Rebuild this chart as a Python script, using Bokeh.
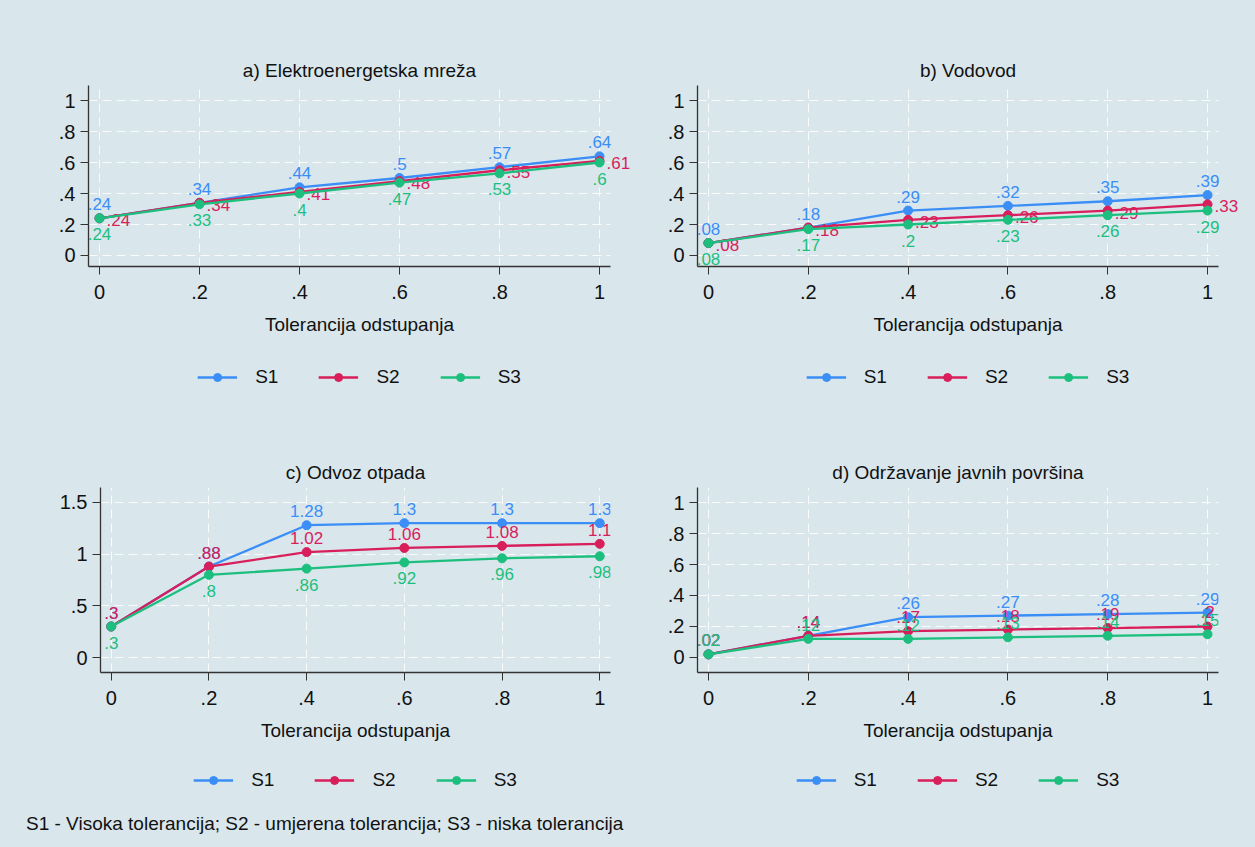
from bokeh.plotting import figure
from bokeh.layouts import column, row
from bokeh.models import (Legend, LegendItem, Div, FixedTicker, Range1d,
                          ColumnDataSource, BoxAnnotation)
from bokeh.embed import file_html
from bokeh.resources import INLINE
from bokeh.core.properties import value

# ---------------- data ----------------
x_vals = [0, 0.2, 0.4, 0.6, 0.8, 1.0]
x_tick_labels = ["0", ".2", ".4", ".6", ".8", "1"]
series_names = ["S1", "S2", "S3"]

a_s1 = [0.24, 0.34, 0.44, 0.50, 0.57, 0.64]
a_s2 = [0.24, 0.34, 0.41, 0.48, 0.55, 0.61]
a_s3 = [0.24, 0.33, 0.40, 0.47, 0.53, 0.60]

b_s1 = [0.08, 0.18, 0.29, 0.32, 0.35, 0.39]
b_s2 = [0.08, 0.18, 0.23, 0.26, 0.29, 0.33]
b_s3 = [0.08, 0.17, 0.20, 0.23, 0.26, 0.29]

c_s1 = [0.30, 0.88, 1.28, 1.30, 1.30, 1.30]
c_s2 = [0.30, 0.88, 1.02, 1.06, 1.08, 1.10]
c_s3 = [0.30, 0.80, 0.86, 0.92, 0.96, 0.98]

d_s1 = [0.02, 0.14, 0.26, 0.27, 0.28, 0.29]
d_s2 = [0.02, 0.14, 0.17, 0.18, 0.19, 0.20]
d_s3 = [0.02, 0.12, 0.12, 0.13, 0.14, 0.15]

panel_titles = ["a) Elektroenergetska mreža", "b) Vodovod",
                "c) Odvoz otpada", "d) Održavanje javnih površina"]
x_axis_title = "Tolerancija odstupanja"
footnote = "S1 - Visoka tolerancija; S2 - umjerena tolerancija; S3 - niska tolerancija"

y_ticks_01 = [0, 0.2, 0.4, 0.6, 0.8, 1.0]
y_tick_labels_01 = ["0", ".2", ".4", ".6", ".8", "1"]
y_ticks_c = [0, 0.5, 1.0, 1.5]
y_tick_labels_c = ["0", ".5", "1", "1.5"]

# ---------------- style ----------------
BG = "#d9e6ec"
COLORS = ["#3a8ef6", "#d81e5b", "#1dbf7e"]
FONT = "Liberation Sans"
X_LO, X_HI = -0.022, 1.022


def fmt(v):
    s = f"{v:.2f}".rstrip("0").rstrip(".")
    if s.startswith("0."):
        s = s[1:]
    return s


def tick_overrides(ticks, labels):
    return {t: l for t, l in zip(ticks, labels)}


def make_panel(title, series, positions, yticks, ylabels, yr,
               fw, fh, bl, br, bt, bb, extra_right=0):
    # extra_right: pixels of room past the axis end so that right-hand labels fit
    px_per_unit = (fw - extra_right) / (X_HI - X_LO)
    x_end = X_HI + extra_right / px_per_unit
    p = figure(frame_width=fw, frame_height=fh, output_backend="svg",
               toolbar_location=None, x_range=Range1d(X_LO, x_end),
               y_range=Range1d(*yr), min_border_left=bl, min_border_right=br,
               min_border_top=bt, min_border_bottom=bb)
    p.background_fill_color = BG
    p.border_fill_color = BG
    p.outline_line_color = None

    p.title.text = title
    p.title.align = "center"
    p.title.text_font = FONT
    p.title.text_font_size = "19px"
    p.title.text_font_style = "normal"
    p.title.text_color = "#111111"

    p.xaxis.bounds = (X_LO, X_HI)
    p.xaxis.ticker = FixedTicker(ticks=x_vals)
    p.xaxis.major_label_overrides = tick_overrides(x_vals, x_tick_labels)
    p.yaxis.ticker = FixedTicker(ticks=yticks)
    p.yaxis.major_label_overrides = tick_overrides(yticks, ylabels)
    p.xaxis.axis_label = x_axis_title
    p.xaxis.axis_label_text_font = FONT
    p.xaxis.axis_label_text_font_size = "19px"
    p.xaxis.axis_label_text_font_style = "normal"
    p.xaxis.axis_label_text_color = "#111111"
    p.xaxis.axis_label_standoff = 12
    for ax in (p.xaxis, p.yaxis):
        ax.major_label_text_font = FONT
        ax.major_label_text_font_size = "20px"
        ax.major_label_text_color = "#111111"
        ax.axis_line_color = "#333333"
        ax.axis_line_width = 1.3
        ax.major_tick_line_color = "#333333"
        ax.major_tick_in = 0
        ax.major_tick_out = 8
        ax.minor_tick_line_color = None
    p.xaxis.major_label_standoff = 10
    p.yaxis.major_label_standoff = 5
    p.yaxis.major_label_orientation = "horizontal"

    p.grid.grid_line_color = "white"
    p.grid.grid_line_dash = "9 5"
    p.grid.grid_line_alpha = 0.85
    p.grid.grid_line_width = 1

    if extra_right:
        # hide the grid beyond the axis end
        p.add_layout(BoxAnnotation(left=X_HI, fill_color=BG, fill_alpha=1,
                                   line_color=None, level="underlay"))

    for name, ys, col, pos in zip(series_names, series, COLORS, positions):
        src = ColumnDataSource(dict(x=x_vals, y=ys, lab=[fmt(v) for v in ys]))
        p.line("x", "y", source=src, line_color=col, line_width=2.3)
        p.scatter("x", "y", source=src, size=9, fill_color=col, line_color=col)
        if pos == "above":
            kw = dict(text_align="center", text_baseline="bottom", x_offset=0, y_offset=-8)
        elif pos == "right":
            kw = dict(text_align="left", text_baseline="middle", x_offset=7, y_offset=2)
        else:
            kw = dict(text_align="center", text_baseline="top", x_offset=0, y_offset=10)
        p.text("x", "y", text="lab", source=src, text_color=col,
               text_font=value(FONT), text_font_size="17px", **kw)
    return p


def make_legend(series, width, height, bl, bt):
    # legend-only strip: the series are drawn out of view (y range far above data)
    q = figure(width=width, height=height, output_backend="svg",
               toolbar_location=None, x_axis_location=None, y_axis_location=None,
               min_border_left=bl, min_border_top=bt, min_border_right=0,
               min_border_bottom=0, x_range=Range1d(0, 1), y_range=Range1d(100, 101))
    q.background_fill_color = BG
    q.border_fill_color = BG
    q.outline_line_color = None
    q.grid.visible = False
    items = []
    for name, ys, col in zip(series_names, series, COLORS):
        ln = q.line(x=x_vals, y=ys, line_color=col, line_width=2.3)
        sc = q.scatter(x=x_vals, y=ys, size=9, fill_color=col, line_color=col)
        items.append(LegendItem(label=name, renderers=[ln, sc]))
    leg = Legend(items=items, orientation="horizontal", location="center")
    leg.background_fill_alpha = 0
    leg.border_line_alpha = 0
    leg.label_text_font = FONT
    leg.label_text_font_size = "19px"
    leg.label_text_color = "#111111"
    leg.glyph_width = 40
    leg.label_standoff = 18
    leg.spacing = 40
    leg.margin = 0
    leg.padding = 4
    q.add_layout(leg)
    return q


pa = make_panel(panel_titles[0], [a_s1, a_s2, a_s3], ["above", "right", "below"],
                y_ticks_01, y_tick_labels_01, (-0.071, 1.097),
                542, 181, 88, 5, 85, 80, extra_right=20)
pb = make_panel(panel_titles[1], [b_s1, b_s2, b_s3], ["above", "right", "below"],
                y_ticks_01, y_tick_labels_01, (-0.071, 1.097),
                541, 181, 62, 15, 85, 80, extra_right=20)
pc = make_panel(panel_titles[2], [c_s1, c_s2, c_s3], ["above", "above", "below"],
                y_ticks_c, y_tick_labels_c, (-0.145, 1.645),
                510, 185, 100, 25, 87, 80)
pd = make_panel(panel_titles[3], [d_s1, d_s2, d_s3], ["above", "above", "above"],
                y_ticks_01, y_tick_labels_01, (-0.097, 1.097),
                521, 185, 62, 35, 87, 80)

la = make_legend([a_s1, a_s2, a_s3], 635, 54, 21, 8)
lb = make_legend([b_s1, b_s2, b_s3], 618, 54, 17, 8)
lc = make_legend([c_s1, c_s2, c_s3], 635, 53, 76, 3)
ld = make_legend([d_s1, d_s2, d_s3], 618, 53, 27, 3)

note = Div(text=footnote, width=1253, height=40,
           styles={"background-color": BG, "font-family": FONT, "font-size": "19px",
                   "color": "#111111", "padding-left": "21px", "padding-top": "0px",
                   "box-sizing": "border-box"})

layout = column(row(column(pa, la), column(pb, lb)),
                row(column(pc, lc), column(pd, ld)), note)
layout.styles = {"background-color": BG}

open("out.html", "w").write(file_html(layout, INLINE))
